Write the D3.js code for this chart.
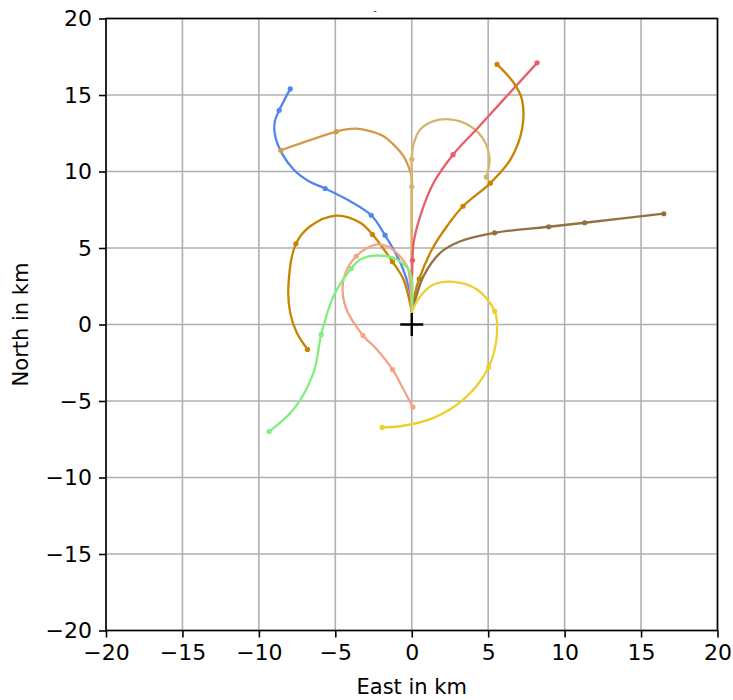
<!DOCTYPE html>
<html>
<head>
<meta charset="utf-8">
<script src="https://d3js.org/d3.v7.min.js"></script>
<style>
  body { margin: 0; background: #fff; }
  text { font-family: "DejaVu Sans", sans-serif; }
</style>
</head>
<body>
<div id="chart"></div>
<script>
/*============================
==DATA (km east, km north) ===*/
var xTicks = [-20, -15, -10, -5, 0, 5, 10, 15, 20];
var yTicks = [-20, -15, -10, -5, 0, 5, 10, 15, 20];

var names = ["blue", "tan", "khaki", "red", "goldRight", "goldLeft", "brown", "salmon", "green", "yellow"];
var colors = ["#5286ef", "#d49a48", "#d6b46a", "#e85e6a", "#c88300", "#c88300", "#937040", "#f4a482", "#80ef80", "#ecd030"];

var bluePath = [[0,0.85],[-0.15,2.2],[-0.64,3.81],[-1.75,5.84],[-2.65,7.14],[-4.03,8.06],[-5.66,8.89],[-6.7,9.35],[-7.7,10.1],[-8.5,11.2],[-8.95,12.4],[-8.95,13.3],[-8.67,14.0],[-7.95,15.4]];
var blueMarks = [[-1.75,5.84],[-2.65,7.14],[-5.66,8.89],[-8.67,14.0],[-7.95,15.4]];

var tanPath = [[0,0.85],[0,4.5],[0,8.5],[0,9.6],[-0.2,10.3],[-0.54,11.0],[-1.19,11.76],[-1.85,12.31],[-2.8,12.66],[-3.6,12.8],[-4.3,12.75],[-4.94,12.6],[-8.56,11.39]];
var tanMarks = [[-4.94,12.6],[-8.56,11.39]];

var khakiPath = [[0,0.85],[0,4.5],[0,9.0],[0,10.8],[0.12,11.8],[0.56,12.75],[1.43,13.29],[2.52,13.4],[3.83,12.96],[4.7,12.09],[5.09,10.78],[4.88,9.63]];
var khakiMarks = [[0,9.0],[0,10.8],[4.88,9.63]];

var redPath = [[0,0.85],[0.02,3],[0.05,4.2],[0.12,5.34],[0.56,7.1],[1.43,9.26],[2.7,11.1],[4.27,12.8],[8.2,17.1]];
var redMarks = [[0.05,4.2],[2.7,11.1],[8.2,17.1]];

var goldRightPath = [[0,0.85],[0.2,2],[0.49,2.99],[1.32,4.9],[2.3,6.42],[3.35,7.73],[5.14,9.24],[6.45,10.78],[7.21,12.75],[7.21,14.7],[6.67,15.8],[5.58,17.0]];
var goldRightMarks = [[0.49,2.99],[3.35,7.73],[5.14,9.24],[5.58,17.0]];

var goldLeftPath = [[0,0.85],[-0.54,2.94],[-1.26,4.1],[-2.57,5.88],[-3.37,6.65],[-4.94,7.12],[-6.64,6.42],[-7.58,5.27],[-8.07,2.5],[-7.95,0.76],[-7.52,-0.54],[-6.82,-1.63]];
var goldLeftMarks = [[-1.26,4.1],[-2.57,5.88],[-7.58,5.27],[-6.82,-1.63]];

var brownPath = [[0,0.85],[0.23,1.63],[0.77,3.16],[1.87,4.69],[3.18,5.44],[5.42,5.99],[8.96,6.39],[11.31,6.65],[16.49,7.24]];
var brownMarks = [[5.42,5.99],[8.96,6.39],[11.31,6.65],[16.49,7.24]];

var salmonPath = [[0,0.85],[-0.1,2.5],[-0.31,3.81],[-1.41,5.01],[-2.28,5.23],[-3.63,4.46],[-4.46,2.94],[-4.35,1.2],[-3.19,-0.72],[-2.28,-1.63],[-1.26,-2.94],[-0.54,-4.25],[0.08,-5.4]];
var salmonMarks = [[-3.63,4.46],[-3.19,-0.72],[-1.26,-2.94],[0.08,-5.4]];

var greenPath = [[0,0.85],[-0.1,3.38],[-0.97,4.25],[-2.28,4.51],[-3.37,4.25],[-3.96,3.66],[-5.12,1.85],[-5.92,-0.65],[-6.43,-3.16],[-7.74,-5.56],[-9.33,-7.0]];
var greenMarks = [[-3.96,3.66],[-5.92,-0.65],[-9.33,-7.0]];

var yellowPath = [[0,0.85],[0.56,1.85],[1.43,2.61],[2.74,2.79],[4.27,2.29],[5.42,0.87],[5.58,-0.54],[5.03,-2.79],[3.39,-4.9],[1.43,-6.1],[-0.75,-6.65],[-1.93,-6.73]];
var yellowMarks = [[5.42,0.87],[5.03,-2.79],[-1.93,-6.73]];

var paths = [bluePath, tanPath, khakiPath, redPath, goldRightPath, goldLeftPath, brownPath, salmonPath, greenPath, yellowPath];
var marks = [blueMarks, tanMarks, khakiMarks, redMarks, goldRightMarks, goldLeftMarks, brownMarks, salmonMarks, greenMarks, yellowMarks];

// origin cross
var origin = [0, 0];

/*=============================
===SVG ELEMENT ================*/
var svgWidth = 733;
var svgHeight = 700;

var margin = { top: 18.5, right: 15.5, bottom: 69.5, left: 106 };
var width = svgWidth - margin.left - margin.right;
var height = svgHeight - margin.top - margin.bottom;

var svg = d3.select("#chart")
  .append("svg")
  .attr("width", svgWidth)
  .attr("height", svgHeight)
  .append("g")
  .attr("transform", `translate(${margin.left}, ${margin.top})`);

/*=============================
===SCALES + GRID ==============*/
var xScale = d3.scaleLinear().domain([-20, 20]).range([0, width]);
var yScale = d3.scaleLinear().domain([-20, 20]).range([height, 0]);

svg.append("g").selectAll("line")
  .data(xTicks)
  .enter()
  .append("line")
  .attr("x1", d => xScale(d)).attr("x2", d => xScale(d))
  .attr("y1", 0).attr("y2", height)
  .attr("stroke", "#b0b0b0")
  .attr("stroke-width", 1.6);

svg.append("g").selectAll("line")
  .data(yTicks)
  .enter()
  .append("line")
  .attr("y1", d => yScale(d)).attr("y2", d => yScale(d))
  .attr("x1", 0).attr("x2", width)
  .attr("stroke", "#b0b0b0")
  .attr("stroke-width", 1.6);

/*=============================
===TRAJECTORIES ===============*/
var line = d3.line()
  .x(d => xScale(d[0]))
  .y(d => yScale(d[1]))
  .curve(d3.curveCatmullRom.alpha(0.5));

paths.forEach(function(p, i) {
  svg.append("path")
    .attr("class", "track " + names[i])
    .attr("d", line(p))
    .attr("fill", "none")
    .attr("stroke", colors[i])
    .attr("stroke-width", 2.3)
    .attr("stroke-linecap", "round");

  svg.append("g").selectAll("circle")
    .data(marks[i])
    .enter()
    .append("circle")
    .attr("cx", d => xScale(d[0]))
    .attr("cy", d => yScale(d[1]))
    .attr("r", 2.6)
    .attr("fill", colors[i]);
});

// black cross at the origin
svg.append("path")
  .attr("d", "M-11.5,0H11.5M0,-11.5V11.5")
  .attr("transform", `translate(${xScale(origin[0])}, ${yScale(origin[1])})`)
  .attr("stroke", "#000")
  .attr("stroke-width", 2.4)
  .attr("fill", "none");

/*=============================
===AXES =======================*/
var fmt = d => d < 0 ? "\u2212" + Math.abs(d) : String(d);

var xAxis = d3.axisBottom(xScale).tickValues(xTicks).tickFormat(fmt).tickSize(7).tickPadding(7);
var yAxis = d3.axisLeft(yScale).tickValues(yTicks).tickFormat(fmt).tickSize(7).tickPadding(7);

var gx = svg.append("g")
  .attr("transform", `translate(0, ${height})`)
  .call(xAxis);
var gy = svg.append("g").call(yAxis);

[gx, gy].forEach(function(g) {
  g.select(".domain").remove();
  g.selectAll(".tick line").attr("stroke", "#000").attr("stroke-width", 1.6);
  g.selectAll(".tick text")
    .attr("fill", "#000")
    .style("font-family", "DejaVu Sans")
    .style("font-size", "22px");
});

// frame
svg.append("rect")
  .attr("x", 0).attr("y", 0)
  .attr("width", width).attr("height", height)
  .attr("fill", "none")
  .attr("stroke", "#000")
  .attr("stroke-width", 1.6);

/*=============================
===LABELS =====================*/
svg.append("text")
  .attr("x", width / 2)
  .attr("y", height + 63)
  .attr("text-anchor", "middle")
  .style("font-size", "21px")
  .text("East in km");

svg.append("text")
  .attr("transform", `translate(${-78}, ${height / 2}) rotate(-90)`)
  .attr("text-anchor", "middle")
  .style("font-size", "21px")
  .text("North in km");

svg.append("text")
  .attr("x", 375 - margin.left)
  .attr("y", 14 - margin.top)
  .attr("text-anchor", "middle")
  .style("font-size", "9px")
  .text("-");
</script>
</body>
</html>
